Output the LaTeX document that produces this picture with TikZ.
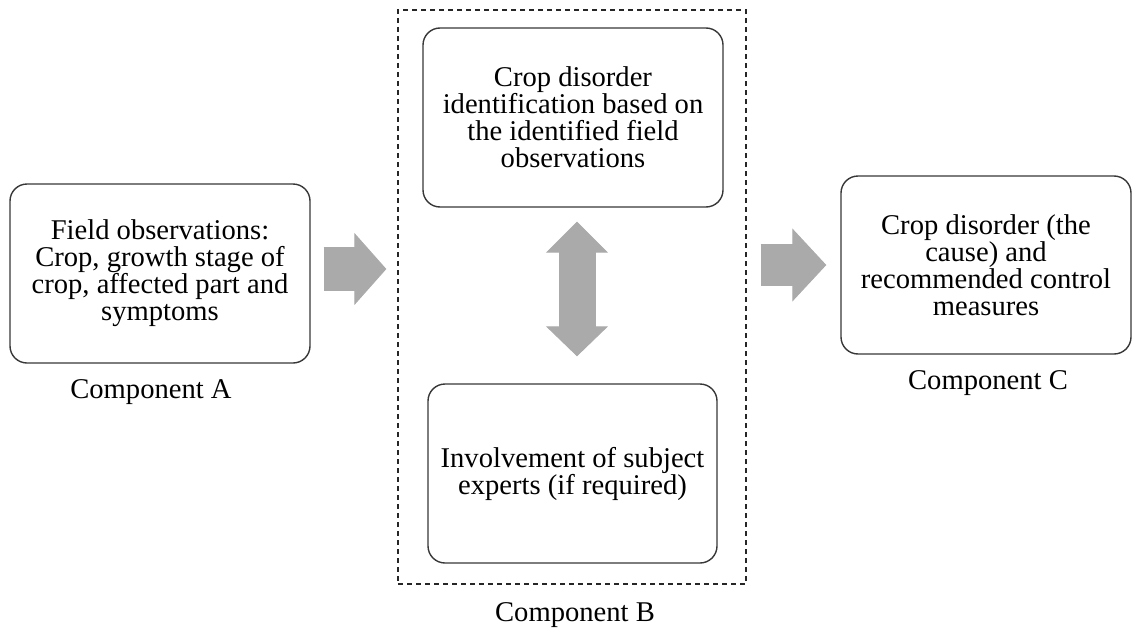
\documentclass[tikz,border=0pt]{standalone}
\usepackage{fontspec}
\setmainfont{Liberation Serif}
\usepackage{tikz}
\usetikzlibrary{arrows.meta}
\definecolor{arrowgray}{RGB}{170,170,170}
\definecolor{framegray}{RGB}{55,55,55}
\tikzset{
	compbox/.style={draw=framegray, line width=1.4pt, rounded corners=17pt, align=center, inner sep=0pt, font=\fontsize{28.6}{27}\selectfont},
	complabel/.style={inner sep=0pt, font=\fontsize{28.6}{27}\selectfont},
	blockarrow/.style={arrowgray, line width=#1}
}
\begin{document}
\begin{tikzpicture}[x=1pt, y=-1pt]
				\useasboundingbox (0,0) rectangle (1132,629);
				\node (A) at (160,273.5) [compbox, minimum width=300pt, minimum height=179pt] {Field observations:\\Crop, growth stage of\\crop, affected part and\\symptoms};
				\node (LA) at (151,392) [complabel] {Component A};
				\node (F) at (572,297) [draw=black!85, line width=1.3pt, dash pattern=on 5pt off 4pt, minimum width=348pt, minimum height=574pt, inner sep=0pt] {};
				\node (B1) at (573,117.5) [compbox, minimum width=300pt, minimum height=179pt] {Crop disorder\\identification based on\\the identified field\\observations};
				\node (B2) at (572.5,473.5) [compbox, minimum width=289pt, minimum height=179pt] {Involvement of subject\\experts (if required)};
				\node (LB) at (575,615) [complabel] {Component B};
				\node (C) at (986,265) [compbox, minimum width=290pt, minimum height=178pt] {Crop disorder (the\\cause) and\\recommended control\\measures};
				\node (LC) at (988,383) [complabel] {Component C};
				\draw[blockarrow=44pt, -{Triangle[width=72pt, length=32pt, line width=1pt]}, shorten <=13pt, shorten >=11pt] ([yshift=4.5pt]A.east) -- ([yshift=4.5pt]A.east -| F.west);
				\draw[blockarrow=42pt, -{Triangle[width=73pt, length=34pt, line width=1pt]}, shorten <=14pt, shorten >=14pt] (C.west -| F.east) -- (C.west);
				\draw[blockarrow=37pt, {Triangle[width=62pt, length=31pt, line width=1pt]}-{Triangle[width=62pt, length=30pt, line width=1pt]}, shorten <=14pt, shorten >=27pt] ([xshift=4pt]B1.south) -- ([xshift=4pt]B1.south |- B2.north);
			\end{tikzpicture}
\end{document}
